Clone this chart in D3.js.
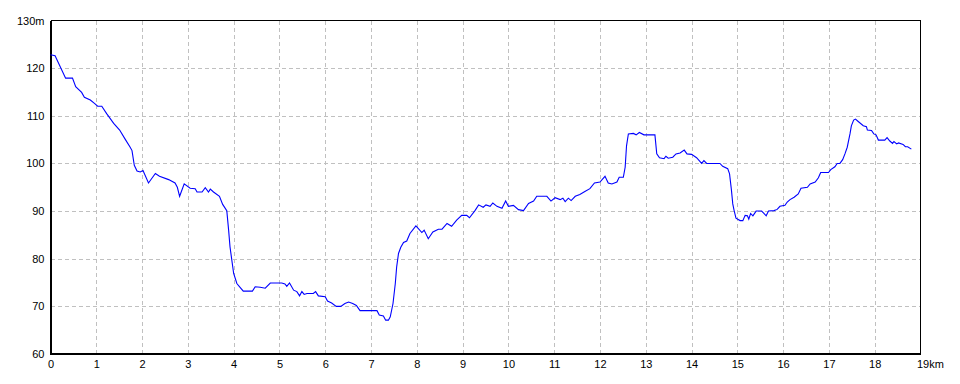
<!DOCTYPE html>
<html>
<head>
<meta charset="utf-8">
<script src="https://cdn.jsdelivr.net/npm/d3@7"></script>
<style>
  body { margin: 0; background: #fff; }
  svg { display: block; font-family: "DejaVu Sans Condensed", "DejaVu Sans", sans-serif; }
</style>
</head>
<body>
<div id="chart"></div>
<script>
// distance (km) and elevation (m)
const distKm = [
  0, 0.1, 0.33, 0.48, 0.55, 0.68, 0.74, 0.87, 0.96, 1.03, 1.12, 1.23, 1.38, 1.51, 1.63, 1.74,
  1.78, 1.83, 1.89, 1.96, 2.02, 2.14, 2.29, 2.38, 2.58, 2.72, 2.77, 2.82, 2.92, 3.05, 3.16,
  3.2, 3.31, 3.38, 3.45, 3.49, 3.56, 3.69, 3.76, 3.85, 3.89, 3.92, 3.96, 4.0, 4.07, 4.14,
  4.21, 4.41, 4.47, 4.58, 4.69, 4.8, 5.05, 5.12, 5.16, 5.22, 5.31, 5.38, 5.44, 5.49, 5.54,
  5.6, 5.74, 5.79, 5.85, 6.0, 6.05, 6.14, 6.24, 6.34, 6.43, 6.51, 6.6, 6.68, 6.76, 7.13,
  7.18, 7.27, 7.32, 7.38, 7.42, 7.48, 7.53, 7.56, 7.6, 7.65, 7.71, 7.78, 7.85, 7.98, 8.11,
  8.16, 8.25, 8.35, 8.47, 8.55, 8.66, 8.76, 8.87, 8.98, 9.09, 9.15, 9.27, 9.35, 9.45, 9.51,
  9.6, 9.66, 9.75, 9.86, 9.94, 10.0, 10.11, 10.22, 10.33, 10.44, 10.55, 10.62, 10.84, 10.93,
  11.02, 11.13, 11.19, 11.24, 11.31, 11.37, 11.46, 11.56, 11.67, 11.78, 11.88, 12.0, 12.11,
  12.18, 12.26, 12.37, 12.42, 12.51, 12.55, 12.58, 12.62, 12.73, 12.79, 12.86, 12.96, 13.2,
  13.24, 13.3, 13.4, 13.44, 13.49, 13.59, 13.66, 13.75, 13.84, 13.9, 14.0, 14.11, 14.22,
  14.27, 14.33, 14.62, 14.68, 14.79, 14.83, 14.87, 14.9, 14.93, 14.97, 15.06, 15.12, 15.17,
  15.22, 15.25, 15.29, 15.34, 15.41, 15.53, 15.57, 15.63, 15.68, 15.8, 15.87, 15.93, 16.04,
  16.09, 16.15, 16.24, 16.33, 16.39, 16.53, 16.59, 16.7, 16.77, 16.82, 16.99, 17.04, 17.13,
  17.18, 17.24, 17.3, 17.35, 17.4, 17.46, 17.49, 17.54, 17.58, 17.64, 17.75, 17.82, 17.84,
  17.93, 17.98, 18.03, 18.08, 18.22, 18.27, 18.33, 18.39, 18.42, 18.48, 18.52, 18.62, 18.67,
  18.72, 18.8
];
const elevM = [
  122.8, 122.6, 117.9, 117.9, 116.1, 114.9, 113.9, 113.3, 112.6, 112.0, 112.0, 110.4, 108.4, 107.0, 105.1, 103.4,
  102.7, 99.6, 98.4, 98.2, 98.5, 95.9, 97.9, 97.3, 96.6, 95.9, 95.0, 93.1, 95.7, 94.8, 94.7,
  94.0, 94.0, 94.9, 94.0, 94.6, 94.0, 93.1, 91.4, 90.1, 86.0, 82.5, 79.7, 76.9, 74.8, 74.0,
  73.2, 73.2, 74.1, 74.0, 73.8, 74.9, 74.9, 74.7, 74.2, 74.9, 73.4, 73.1, 72.2, 73.1, 72.5,
  72.7, 72.7, 73.1, 72.2, 72.0, 71.1, 70.7, 70.0, 70.0, 70.6, 70.9, 70.6, 70.2, 69.1, 69.1,
  68.2, 68.0, 67.1, 67.1, 67.8, 70.6, 74.8, 78.3, 81.1, 82.4, 83.4, 83.7, 85.3, 86.9, 85.5,
  86.0, 84.2, 85.6, 86.2, 86.2, 87.4, 86.8, 88.1, 89.1, 89.1, 88.6, 90.1, 91.3, 90.8, 91.3,
  91.0, 91.7, 91.0, 90.6, 92.1, 91.0, 91.2, 90.3, 90.1, 91.6, 92.1, 93.1, 93.1, 92.1,
  92.8, 92.4, 92.7, 92.0, 92.7, 92.2, 93.1, 93.5, 94.1, 94.7, 95.9, 96.1, 97.3,
  95.9, 95.7, 96.1, 97.1, 97.1, 99.2, 103.7, 106.2, 106.3, 106.0, 106.5, 106.0, 106.0,
  102.0, 101.2, 101.0, 101.5, 101.1, 101.3, 102.0, 102.2, 102.8, 102.0, 101.9, 101.2, 100.0,
  100.6, 100.0, 100.0, 99.4, 98.9, 97.8, 94.5, 91.5, 90.1, 88.5, 88.0, 88.0, 89.1,
  89.0, 88.3, 89.5, 89.0, 90.0, 90.0, 89.6, 89.0, 90.0, 90.1, 90.35, 91.0, 91.2,
  91.9, 92.4, 92.9, 93.6, 94.8, 95.0, 95.7, 96.1, 97.0, 98.1, 98.1, 98.7, 99.3,
  100.0, 100.0, 100.8, 102.0, 103.4, 106.2, 107.9, 109.1, 109.3, 108.8, 107.9, 107.7, 107.0,
  106.9, 106.2, 106.0, 104.9, 104.9, 105.4, 104.7, 104.2, 104.6, 104.1, 104.3, 104.0, 103.5,
  103.5, 103.0
];
const xTicks = d3.range(0, 20);
const xTickLabels = ['0','1','2','3','4','5','6','7','8','9','10','11','12','13','14','15','16','17','18','19km'];
const yTicks = [60, 70, 80, 90, 100, 110, 120, 130];
const yTickLabels = ['60','70','80','90','100','110','120','130m'];

const W = 960, H = 384;
const L = 50.5, R = 920.5, T = 20.5, B = 354;

const svg = d3.select('#chart').append('svg').attr('width', W).attr('height', H);

const x = d3.scaleLinear().domain([0, 19]).range([L, R]);
const y = d3.scaleLinear().domain([60, 130]).range([B, T]);

// grid
const grid = svg.append('g')
  .attr('stroke', '#c0c0c0').attr('stroke-dasharray', '4,3').attr('shape-rendering', 'crispEdges');
grid.selectAll('.vg').data(xTicks.slice(1, -1)).join('line')
  .attr('x1', d => Math.round(x(d)) + 0.5).attr('x2', d => Math.round(x(d)) + 0.5)
  .attr('y1', T).attr('y2', B);
grid.selectAll('.hg').data(yTicks.slice(1, -1)).join('line')
  .attr('x1', L).attr('x2', R)
  .attr('y1', d => Math.round(y(d)) + 0.5).attr('y2', d => Math.round(y(d)) + 0.5);

// axes labels
const xAxis = svg.append('g').attr('transform', `translate(0,${B})`)
  .call(d3.axisBottom(x).tickValues(xTicks).tickSize(0).tickPadding(6)
    .tickFormat((d, i) => xTickLabels[i]))
  .call(a => a.select('.domain').remove())
  .call(a => a.selectAll('text').style('font-size', '11px').style('fill', '#000'));
xAxis.selectAll('text').filter((d, i) => i === xTicks.length - 1)
  .attr('text-anchor', 'start').attr('dx', '-4');

svg.append('g').attr('transform', `translate(${L - 1},0)`)
  .call(d3.axisLeft(y).tickValues(yTicks).tickSize(0).tickPadding(5)
    .tickFormat((d, i) => yTickLabels[i]))
  .call(a => a.select('.domain').remove())
  .call(a => a.selectAll('text').style('font-size', '11px').style('fill', '#000'));

// frame: thin top/right, heavier left/bottom axes
const frame = svg.append('g').attr('stroke', '#000').attr('shape-rendering', 'crispEdges');
frame.append('line').attr('x1', L).attr('x2', R).attr('y1', T).attr('y2', T).attr('stroke-width', 1.5);
frame.append('line').attr('x1', R).attr('x2', R).attr('y1', T).attr('y2', B).attr('stroke-width', 1.5);
frame.append('line').attr('x1', L).attr('x2', L).attr('y1', T).attr('y2', B + 1).attr('stroke-width', 2);
frame.append('line').attr('x1', L).attr('x2', R).attr('y1', B).attr('y2', B).attr('stroke-width', 2);

// profile
const pts = distKm.map((d, i) => [d, elevM[i]]);
svg.append('path').datum(pts)
  .attr('fill', 'none').attr('stroke', '#0000ff').attr('stroke-width', 1.1)
  .attr('d', d3.line().x(d => x(d[0])).y(d => y(d[1])));
</script>
</body>
</html>
